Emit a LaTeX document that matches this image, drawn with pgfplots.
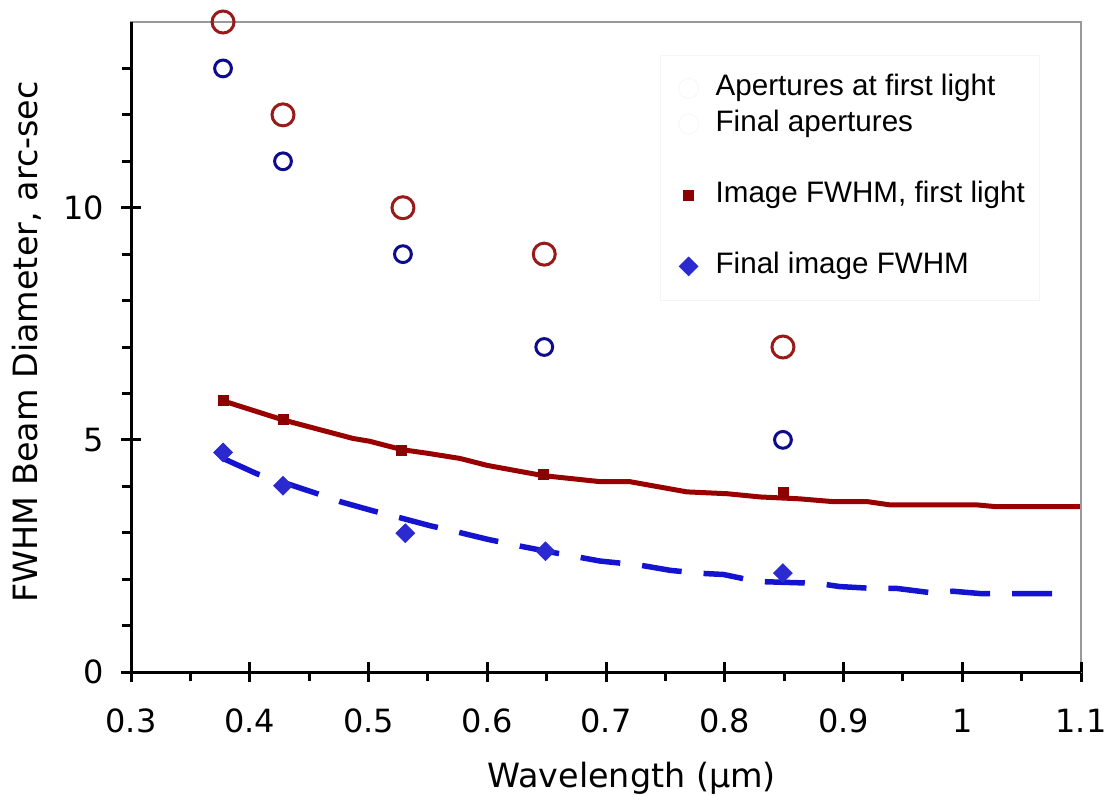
\documentclass[border=0pt]{standalone}
\usepackage{fontspec}
\setmainfont{DejaVu Sans}
\newfontfamily\arial{Liberation Sans}
\usepackage{pgfplots}
\pgfplotsset{compat=1.18}
\definecolor{circred}{HTML}{9A1A1A}
\definecolor{circblue}{HTML}{0C0C8C}
\definecolor{linered}{HTML}{990000}
\definecolor{sqred}{HTML}{8B0000}
\definecolor{lineblue}{HTML}{1414D0}
\definecolor{diablue}{HTML}{2A2AD0}
\pgfplotsset{
  common/.style={
    scale only axis,
    width=475pt, height=325pt,
    xmin=0.3, xmax=1.1, ymin=0, ymax=14,
    xtick pos=bottom, ytick pos=left,
    xtick={0.3,0.4,0.5,0.6,0.7,0.8,0.9,1,1.1},
    minor xtick={0.35,0.45,0.55,0.65,0.75,0.85,0.95,1.05},
    ytick={0,5,10},
    minor ytick={1,2,3,4,6,7,8,9,11,12,13},
    tick style={black, line width=1.5pt},
    major tick length=5pt,
    minor tick length=4.5pt,
  }
}
\begin{document}
\begin{tikzpicture}
\begin{axis}[
  common,
  clip=false,
  axis line style={draw=gray!80, line width=1pt},
  /pgf/number format/assume math mode=true,
  tick align=outside,
  xticklabels={0.3,0.4,0.5,0.6,0.7,0.8,0.9,1,1.1},
  yticklabels={0,5,10},
  tick label style={font=\fontsize{16}{19}\selectfont},
  xticklabel style={anchor=base, yshift=-25pt},
  yticklabel style={anchor=east, xshift=-5pt},
  every axis x label/.style={at={(axis description cs:0.527,0)}, anchor=base, yshift=-57.5pt},
  every axis y label/.style={at={(axis description cs:-0.098,0.508)}, rotate=90, anchor=base},
  label style={font=\fontsize{16.7}{19}\selectfont},
  xlabel={Wavelength (µm)},
  ylabel={FWHM Beam Diameter, arc-sec},
  legend style={at={(0.557,0.950)}, anchor=north west, draw=gray!8, fill=white,
    font=\arial\fontsize{14.8}{17}\selectfont, row sep=0.3pt,
    inner xsep=5.5pt, inner ysep=8pt,
    nodes={text height=10.5pt, text depth=3pt},
    /tikz/every odd column/.append style={column sep=6.5pt}},
  legend cell align=left,
]
% red line
\addplot[linered, line width=2.5pt, forget plot] coordinates {
(0.3775,5.84) (0.428,5.43) (0.487,5.03) (0.501,4.97) (0.528,4.79) (0.550,4.71) (0.577,4.60) (0.600,4.45) (0.647,4.23) (0.695,4.10) (0.720,4.10) (0.768,3.88) (0.802,3.84) (0.830,3.77) (0.863,3.73) (0.891,3.67) (0.920,3.67) (0.939,3.60) (1.012,3.60) (1.029,3.56) (1.099,3.56)};
% blue dashed line
\addplot[lineblue, line width=2.75pt, dash pattern=on 20pt off 11pt, forget plot] coordinates {
(0.3775,4.60) (0.406,4.27) (0.431,4.06) (0.457,3.84) (0.476,3.67) (0.504,3.47) (0.527,3.32) (0.552,3.15) (0.571,3.04) (0.600,2.86) (0.628,2.71) (0.650,2.60) (0.695,2.39) (0.729,2.30) (0.754,2.19) (0.777,2.13) (0.799,2.10) (0.827,1.95) (0.852,1.93) (0.878,1.91) (0.897,1.84) (0.925,1.80) (0.945,1.80) (0.973,1.71) (0.992,1.74) (1.015,1.69) (1.093,1.69)};
% red squares
\addplot[only marks, mark=square*, mark size=2.5pt, color=sqred, forget plot] coordinates {
(0.3775,5.84) (0.428,5.44) (0.528,4.77) (0.647,4.25) (0.849,3.86)};
% blue diamonds
\addplot[only marks, mark=square*, mark size=3.3pt, mark options={rotate=45}, color=diablue, forget plot] coordinates {
(0.3775,4.73) (0.428,4.01) (0.531,2.99) (0.649,2.60) (0.849,2.13)};
% red circles
\addplot[only marks, mark=o, mark size=5.5pt, mark options={line width=1.5pt}, color=circred, forget plot] coordinates {
(0.3775,14) (0.428,12) (0.529,10) (0.648,9) (0.849,7)};
% blue circles
\addplot[only marks, mark=o, mark size=4.2pt, mark options={line width=1.5pt}, color=circblue, forget plot] coordinates {
(0.3775,13) (0.428,11) (0.529,9) (0.648,7) (0.849,5)};
% legend
\addlegendimage{only marks, mark=o, mark size=5pt, color=gray!6}
\addlegendentry{Apertures at first light}
\addlegendimage{only marks, mark=o, mark size=5pt, color=gray!6}
\addlegendentry{Final apertures}
\addlegendimage{empty legend}
\addlegendentry{}
\addlegendimage{only marks, mark=square*, mark size=2.5pt, color=sqred}
\addlegendentry{Image FWHM, first light}
\addlegendimage{empty legend}
\addlegendentry{}
\addlegendimage{only marks, mark=square*, mark size=3.3pt, mark options={rotate=45}, color=diablue}
\addlegendentry{Final image FWHM}
\draw[black, line width=1.5pt] (rel axis cs:0,1) -- (rel axis cs:0,0) -- (rel axis cs:1,0);
\end{axis}
% inner halves of the major ticks
\begin{axis}[
  common,
  axis line style={draw=none},
  tick align=inside,
  minor tick length=0pt,
  xticklabels={}, yticklabels={},
]
\end{axis}
\pgfresetboundingbox
\path ([shift={(-65.5pt,-61pt)}]current axis.south west) rectangle ([shift={(15pt,11pt)}]current axis.north east);
\end{tikzpicture}
\end{document}
